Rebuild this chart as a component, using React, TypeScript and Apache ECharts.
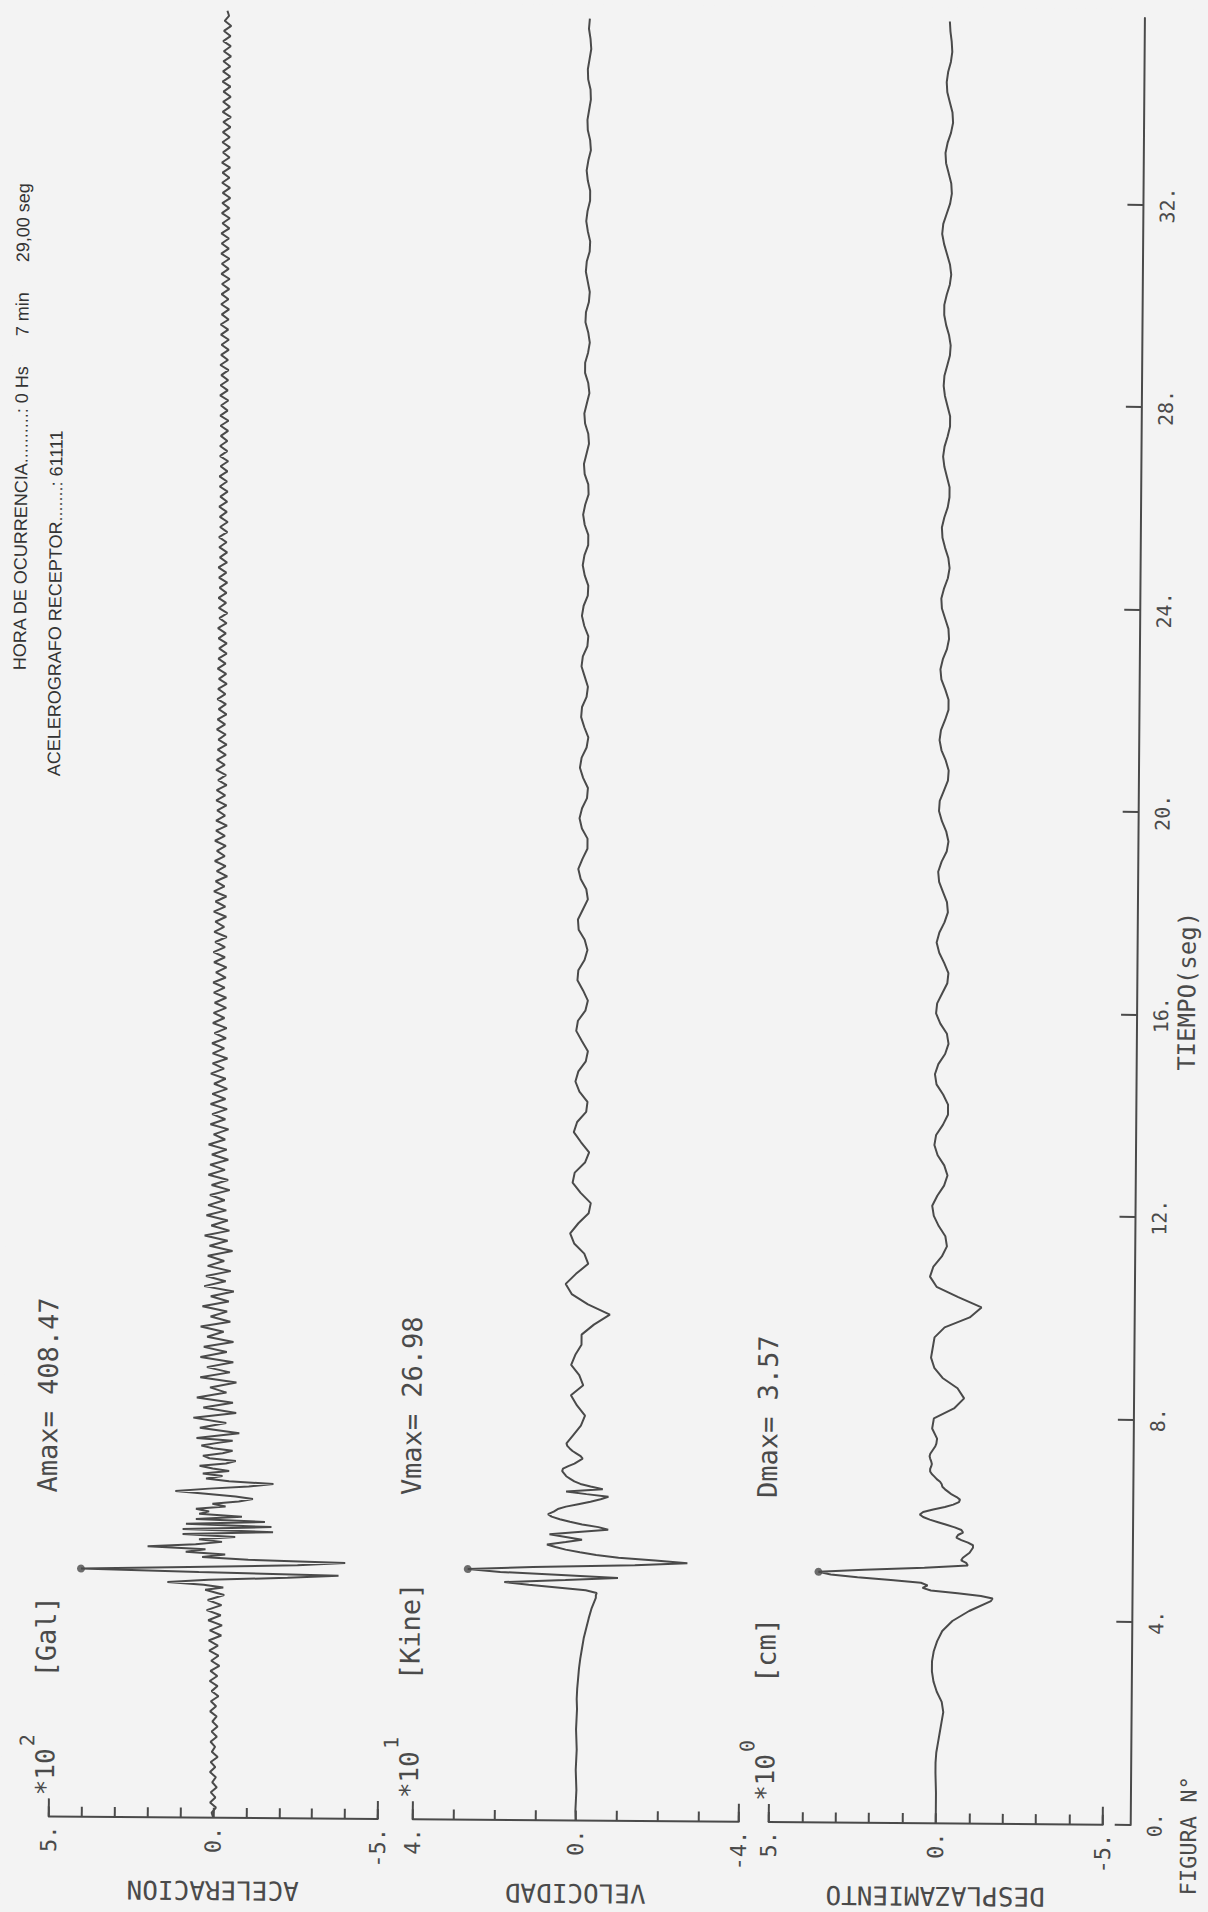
import React, { useEffect, useRef } from "react";
import * as echarts from "echarts";

// ---------------- data ----------------
const timeMax = 35.7;
const timeTicks = [0, 4, 8, 12, 16, 20, 24, 28, 32];
const timeTitle = "TIEMPO(seg)";

const accTicks = [-5, -4, -3, -2, -1, 0, 1, 2, 3, 4, 5];
const accTickLabels = [5, 0, -5];
const accEndTicks = [-5, 5];
const velTicks = [-4, -3, -2, -1, 0, 1, 2, 3, 4];
const velTickLabels = [4, 0, -4];
const velEndTicks = [-4, 4];
const dispTicks = [-5, -4, -3, -2, -1, 0, 1, 2, 3, 4, 5];
const dispTickLabels = [5, 0, -5];
const dispEndTicks = [-5, 5];

const panelNames = ["ACELERACION", "VELOCIDAD", "DESPLAZAMIENTO"];
const panelUnits = ["[Gal]", "[Kine]", "[cm]"];
const panelExponents = ["2", "1", "0"];
const panelMaxLabels = ["Amax= 408.47", "Vmax= 26.98", "Dmax= 3.57"];

const headerLine1 = "HORA DE OCURRENCIA..........: 0 Hs      7 min      29,00 seg";
const headerLine2 = "ACELEROGRAFO RECEPTOR.......: 61111";
const figureLabel = "FIGURA N\u00b0";

// acceleration (x 100 Gal)
const accEarlyStart = 0;
const accEarlyStep = 0.1;
const accEarly = [
  0, 0.05, -0.08, 0.1, -0.06, 0.08, -0.1, 0.04, -0.07, 0.11,
  -0.05, 0.09, -0.12, 0.06, -0.04, 0.1, -0.09, 0.07, -0.11, 0.05,
  -0.08, 0.12, -0.06, 0.1, -0.13, 0.08, -0.1, 0.14, -0.09, 0.12,
  -0.15, 0.1, -0.12, 0.16, -0.1, 0.18, -0.2, 0.15, -0.22, 0.2,
  -0.18, 0.25, -0.2, 0.22, -0.28, 0.3,
];
const accBurstStart = 4.55;
const accBurstStep = 0.05;
const accBurst = [
  -0.25, 0.35, 1.45, 0.2, -2.2, -3.75, 0.5, 4.08, 0.8, -2.5,
  -3.95, -1.0, 0.4, -0.3, 0.9, 0.3, 2.06, 0.6, -0.2, 0.5,
  -0.6, 1.0, -1.75, 1.0, -1.7, 0.9, -1.5, 0.6, -0.8, 0.5,
  0.2, 0.6, -0.3, 0.1, -0.7, -1.13, -0.6, 0.3, 1.23, 0.2,
  -1.0, -1.75, -0.4, 0.3, -0.2, 0.4, -0.4, 0.1, 0.5, -0.3,
  -0.6, 0.2, 0.4, -0.2, -0.5, 0.1, 0.45, 0.0, -0.5,
];
const accLateStart = 7.5;
const accLateStep = 0.1;
const accLate = [
  0.6, -0.7, 0.5, -0.3, 0.7, -0.6,
  0.4, -0.5, 0.6, -0.3, 0.2, -0.6, 0.5, -0.4, 0.3, -0.5,
  0.5, -0.3, 0.4, -0.5, 0.3, -0.2, 0.5, -0.4, 0.2, -0.3,
  0.45, -0.35, 0.2, -0.5, 0.4, -0.25, 0.35, -0.4, 0.3, -0.2,
  0.3, -0.45, 0.25, -0.3, 0.4, -0.35, 0.2, -0.3, 0.35, -0.25,
  0.3, -0.2, 0.25, -0.35, 0.2, -0.3, 0.3, -0.2, 0.25, -0.3,
  0.2, -0.25, 0.3, -0.2, 0.15, -0.3, 0.25, -0.2, 0.2, -0.25,
  0.25, -0.2, 0.2, -0.25, 0.15, -0.2, 0.25, -0.15, 0.2, -0.25,
  0.2, -0.15, 0.22, -0.2, 0.15, -0.22, 0.2, -0.15, 0.18, -0.2,
  0.15, -0.2, 0.18, -0.15, 0.2, -0.18, 0.12, -0.2, 0.18, -0.15,
  0.2, -0.15, 0.15, -0.2, 0.18, -0.12, 0.15, -0.18, 0.2, -0.15,
  0.15, -0.18, 0.2, -0.12, 0.15, -0.2, 0.12, -0.15, 0.18, -0.12,
  0.12, -0.15, 0.18, -0.12, 0.15, -0.18, 0.15, -0.12, 0.12, -0.16,
  0.15, -0.12, 0.14, -0.16, 0.1, -0.14, 0.16, -0.1, 0.14, -0.13,
  0.12, -0.15, 0.1, -0.12, 0.15, -0.1, 0.13, -0.14, 0.1, -0.12,
  0.14, -0.1, 0.12, -0.14, 0.1, -0.12, 0.14, -0.1, 0.12, -0.13,
  0.1, -0.13, 0.12, -0.1, 0.14, -0.12, 0.1, -0.14, 0.12, -0.1,
  0.13, -0.11, 0.1, -0.13, 0.12, -0.1, 0.14, -0.12, 0.1, -0.12,
  0.12, -0.1, 0.13, -0.12, 0.1, -0.13, 0.11, -0.1, 0.13, -0.11,
  0.1, -0.12, 0.12, -0.1, 0.13, -0.11, 0.1, -0.13, 0.12, -0.1,
  0.12, -0.1, 0.1, -0.12, 0.11, -0.13, 0.12, -0.1, 0.1, -0.12,
  0.13, -0.1, 0.12, -0.11, 0.1, -0.12, 0.13, -0.1, 0.11, -0.12,
  0.1, -0.12, 0.12, -0.1, 0.13, -0.11, 0.1, -0.12, 0.12, -0.1,
  0.11, -0.12, 0.1, -0.13, 0.12, -0.1, 0.11, -0.12, 0.13, -0.1,
  0.12, -0.1, 0.13, -0.11, 0.1, -0.12, 0.12, -0.1, 0.11, -0.13,
  0.1, -0.12, 0.12, -0.1, 0.11, -0.12, 0.13, -0.1, 0.1, -0.11,
  0.12, -0.1, 0.11, -0.12, 0.1, -0.13, 0.12, -0.1, 0.11, -0.12,
  0.1, -0.11, 0.13, -0.1, 0.12, -0.1, 0.11, -0.12, 0.1, -0.11,
  0.12, -0.1, 0.1, -0.12, 0.08, -0.05, 0.0,
];

// velocity (x 10 Kine)
const velEarlyStart = 0;
const velEarlyStep = 0.2;
const velEarly = [
  0, 0.01, 0, -0.01, 0, 0.01, 0, -0.01, 0, 0.01,
  0, -0.01, 0, -0.01, -0.03, -0.05, -0.08, -0.12, -0.16, -0.22,
  -0.28, -0.35, -0.45,
];
const velBurstStart = 4.45;
const velBurstStep = 0.05;
const velBurst = [
  -0.45, -0.47, -0.2, 0.5, 1.2, 1.8, 0.3, -0.99, 0.4, 1.9,
  2.698, 1.1, -1.4, -2.69, -1.9, -1.0, -0.45, -0.05, 0.3, 0.55,
  0.76, 0.3, -0.1, 0.3, 0.7, 0.0, -0.74, -0.5, -0.1, 0.2,
  0.45, 0.65, 0.74, 0.6, 0.5, 0.3, 0.0, -0.3, -0.55, -0.74,
  -0.2, 0.3, -0.6, -0.3, -0.05, 0.1, 0.2, 0.3, 0.35, 0.4,
  0.38, 0.25, 0.1, 0.0, -0.1, -0.05, 0.05, 0.15, 0.22, 0.28,
  0.3, 0.25,
];
const velLateStart = 7.6;
const velLateStep = 0.2;
const velLate = [
  0.15, -0.05, -0.15, 0.05, 0.2, -0.1, 0.0, 0.2, 0.1, -0.05,
  -0.05, -0.35, -0.74, -0.2, 0.2, 0.35, 0.1, -0.2, -0.1, 0.15,
  0.25, 0.05, -0.2, -0.25, 0.0, 0.2, 0.15, -0.1, -0.2, 0.0,
  0.18, 0.1, -0.12, -0.15, 0.05, 0.15, 0.08, -0.1, -0.15, 0.0,
  0.14, 0.1, -0.08, -0.14, -0.02, 0.12, 0.1, -0.05, -0.12, -0.05,
  0.1, 0.12, 0.0, -0.12, -0.08, 0.06, 0.12, 0.02, -0.1, -0.1,
  0.04, 0.1, 0.04, -0.08, -0.1, 0.02, 0.1, 0.06, -0.06, -0.1,
  0.0, 0.08, 0.06, -0.05, -0.08, 0.0, 0.08, 0.05, -0.06, -0.08,
  0.02, 0.08, 0.04, -0.06, -0.07, 0.02, 0.07, 0.03, -0.06, -0.06,
  0.03, 0.07, 0.02, -0.06, -0.05, 0.04, 0.06, 0.0, -0.06, -0.04,
  0.04, 0.06, 0.0, -0.06, -0.03, 0.05, 0.05, -0.02, -0.06, -0.02,
  0.05, 0.04, -0.03, -0.05, 0.0, 0.05, 0.03, -0.04, -0.05, 0.01,
  0.05, 0.02, -0.04, -0.04, 0.02, 0.05, 0.01, -0.05, -0.03, 0.03,
  0.04, 0.0, -0.04, -0.03, 0.03, 0.04, 0.0, -0.04, -0.02, 0.02,
  0.0,
];

// displacement (cm)
const dispEarlyStart = 0;
const dispEarlyStep = 0.2;
const dispEarly = [
  0, 0, 0, 0, 0.01, 0.02, 0.02, 0.0, -0.05, -0.1,
  -0.15, -0.2, -0.15, 0.0, 0.1, 0.15, 0.15, 0.1, 0.0, -0.15,
  -0.45, -0.95, -1.6,
];
const dispBurstStart = 4.45;
const dispBurstStep = 0.05;
const dispBurst = [
  -1.65, -1.3, -0.6, 0.2, 0.45, 0.3, 0.5, 1.4, 2.4, 3.2,
  3.57, 2.2, 0.4, -0.9, -0.85, -0.7, -0.75, -0.85, -0.95, -1.0,
  -1.05, -1.05, -0.9, -0.7, -0.55, -0.6, -0.75, -0.7, -0.5, -0.25,
  0.0, 0.25, 0.45, 0.55, 0.45, 0.15, -0.2, -0.45, -0.62, -0.65,
  -0.55, -0.4, -0.3, -0.2, -0.12, -0.1, -0.05, 0.05, 0.12, 0.2,
  0.25, 0.25, 0.22, 0.2, 0.22, 0.25, 0.27, 0.25, 0.2, 0.15,
  0.1, 0.07,
];
const dispLateStart = 7.6;
const dispLateStep = 0.2;
const dispLate = [
  0.05, 0.2, 0.15, -0.45, -0.75, -0.55, -0.1, 0.15, 0.25, 0.2,
  0.15, -0.15, -0.9, -1.25, -0.55, 0.1, 0.3, 0.2, -0.05, -0.2,
  -0.15, 0.05, 0.2, 0.25, 0.1, -0.1, -0.2, -0.1, 0.1, 0.2,
  0.15, -0.05, -0.2, -0.2, -0.05, 0.15, 0.2, 0.1, -0.1, -0.2,
  -0.15, 0.05, 0.18, 0.15, 0.0, -0.15, -0.18, -0.05, 0.1, 0.18,
  0.1, -0.05, -0.15, -0.12, 0.0, 0.12, 0.15, 0.05, -0.1, -0.15,
  -0.08, 0.05, 0.14, 0.12, 0.0, -0.12, -0.14, -0.05, 0.08, 0.14,
  0.1, -0.02, -0.12, -0.12, -0.02, 0.1, 0.13, 0.06, -0.06, -0.12,
  -0.1, 0.0, 0.1, 0.12, 0.04, -0.07, -0.12, -0.08, 0.02, 0.1,
  0.12, 0.05, -0.05, -0.1, -0.1, -0.02, 0.06, 0.1, 0.06, -0.03,
  -0.1, -0.1, -0.02, 0.06, 0.1, 0.08, 0.0, -0.08, -0.1, -0.05,
  0.04, 0.1, 0.1, 0.03, -0.06, -0.1, -0.06, 0.03, 0.12, 0.18,
  0.15, 0.05, -0.05, -0.1, -0.08, 0.0, 0.08, 0.1, 0.04, -0.06,
  -0.12, -0.1, -0.02, 0.06, 0.08, 0.04, -0.04, -0.08, -0.06, -0.02,
  0.0,
];

// ---------------- helpers ----------------
function seg(start: number, step: number, values: number[]): number[][] {
  return values.map((v, i) => [Math.round((start + i * step) * 1000) / 1000, v]);
}
function peakOf(data: number[][]): number[] {
  let best = data[0];
  for (const p of data) if (Math.abs(p[1]) > Math.abs(best[1])) best = p;
  return best;
}

const accData = [
  ...seg(accEarlyStart, accEarlyStep, accEarly),
  ...seg(accBurstStart, accBurstStep, accBurst),
  ...seg(accLateStart, accLateStep, accLate),
];
const velData = [
  ...seg(velEarlyStart, velEarlyStep, velEarly),
  ...seg(velBurstStart, velBurstStep, velBurst),
  ...seg(velLateStart, velLateStep, velLate),
];
const dispData = [
  ...seg(dispEarlyStart, dispEarlyStep, dispEarly),
  ...seg(dispBurstStart, dispBurstStep, dispBurst),
  ...seg(dispLateStart, dispLateStep, dispLate),
];

// ---------------- layout / style ----------------
const PAPER = "#f3f3f3";
const INK = "#4a4a4a";
const MONO = "'DejaVu Sans Mono', monospace";
const SANS = "'Liberation Sans', Arial, sans-serif";
const GRID_LEFT = 96;
const GRID_RIGHT = 9;
const gridTops = [48, 412, 768];
const gridHeights = [329, 326, 334];

const panels = [
  { data: accData, min: -5, max: 5, ticks: accTicks, labels: accTickLabels, ends: accEndTicks },
  { data: velData, min: -4, max: 4, ticks: velTicks, labels: velTickLabels, ends: velEndTicks },
  { data: dispData, min: -5, max: 5, ticks: dispTicks, labels: dispTickLabels, ends: dispEndTicks },
];

function buildOption() {
  const grid = panels.map((_, i) => ({
    left: GRID_LEFT,
    right: GRID_RIGHT,
    top: gridTops[i],
    height: gridHeights[i],
    containLabel: false,
  }));

  const xAxis = panels.map((_, i) => {
    const bottom = i === panels.length - 1;
    return {
      type: "value",
      gridIndex: i,
      min: 0,
      max: timeMax,
      show: bottom,
      offset: bottom ? 28 : 0,
      axisLine: { show: bottom, onZero: false, lineStyle: { color: INK, width: 2 } },
      axisTick: {
        show: bottom,
        inside: true,
        length: 16,
        customValues: timeTicks,
        lineStyle: { color: INK, width: 2 },
      },
      axisLabel: {
        show: bottom,
        customValues: timeTicks,
        formatter: (v: number) => `${v}.`,
        fontFamily: MONO,
        fontSize: 20,
        color: INK,
        margin: 14,
      },
      splitLine: { show: false },
    };
  });

  const yAxis: any[] = [];
  panels.forEach((p, i) => {
    yAxis.push({
      type: "value",
      gridIndex: i,
      min: p.min,
      max: p.max,
      position: "left",
      name: panelNames[i],
      nameLocation: "middle",
      nameRotate: 90,
      nameGap: 44,
      nameTextStyle: { fontFamily: MONO, fontSize: 26, color: INK },
      axisLine: { show: true, onZero: false, lineStyle: { color: INK, width: 2 } },
      axisTick: {
        show: true,
        inside: true,
        length: 10,
        customValues: p.ticks,
        lineStyle: { color: INK, width: 2 },
      },
      axisLabel: {
        customValues: p.labels,
        formatter: (v: number) => `${v}.`,
        fontFamily: MONO,
        fontSize: 22,
        color: INK,
        margin: 9,
      },
      splitLine: { show: false },
    });
    yAxis.push({
      type: "value",
      gridIndex: i,
      min: p.min,
      max: p.max,
      position: "left",
      axisLine: { show: false },
      axisTick: {
        show: true,
        inside: true,
        length: 18,
        customValues: p.ends,
        lineStyle: { color: INK, width: 2 },
      },
      axisLabel: { show: false },
      splitLine: { show: false },
    });
  });

  const series: any[] = [];
  panels.forEach((p, i) => {
    series.push({
      type: "line",
      xAxisIndex: i,
      yAxisIndex: 2 * i,
      data: p.data,
      showSymbol: false,
      silent: true,
      lineStyle: { color: INK, width: 2 },
    });
    series.push({
      type: "scatter",
      xAxisIndex: i,
      yAxisIndex: 2 * i,
      data: [peakOf(p.data)],
      symbol: "circle",
      symbolSize: 8,
      silent: true,
      itemStyle: { color: INK },
    });
  });

  const graphic: any[] = [];
  panels.forEach((_, i) => {
    const top = gridTops[i];
    const txt = (x: number, y: number, text: string, size: number, align = "left") => ({
      type: "text",
      x,
      y,
      silent: true,
      style: {
        text,
        fontFamily: MONO,
        fontSize: size,
        fill: INK,
        align,
        verticalAlign: "middle",
      },
    });
    graphic.push(txt(117, top - 4, "*10", 26));
    graphic.push(txt(166, top - 22, panelExponents[i], 20));
    graphic.push(txt(235, top - 4, panelUnits[i], 27));
    graphic.push(txt(420, top - 4, panelMaxLabels[i], 27));
  });
  graphic.push({
    type: "text",
    x: 930,
    y: 1180,
    silent: true,
    style: { text: timeTitle, fontFamily: MONO, fontSize: 24, fill: INK, align: "center", verticalAlign: "middle" },
  });
  graphic.push({
    type: "text",
    x: 1729,
    y: 10,
    silent: true,
    style: { text: headerLine1, fontFamily: SANS, fontSize: 18, fill: "#333", align: "right", verticalAlign: "middle" },
  });
  graphic.push({
    type: "text",
    x: 1482,
    y: 45,
    silent: true,
    style: { text: headerLine2, fontFamily: SANS, fontSize: 18, fill: "#333", align: "right", verticalAlign: "middle" },
  });
  graphic.push({
    type: "text",
    x: 26,
    y: 1188,
    silent: true,
    style: { text: figureLabel, fontFamily: MONO, fontSize: 22, fill: INK, align: "left", verticalAlign: "middle" },
  });

  return {
    animation: false,
    backgroundColor: PAPER,
    grid,
    xAxis,
    yAxis,
    series,
    graphic,
  };
}

export default function App() {
  const ref = useRef<HTMLDivElement>(null);
  useEffect(() => {
    if (!ref.current) return;
    const chart = echarts.init(ref.current, null, { renderer: "svg" });
    chart.setOption(buildOption() as any);
    return () => chart.dispose();
  }, []);
  return (
    <div
      style={{
        position: "absolute",
        left: 0,
        top: 0,
        width: 1208,
        height: 1912,
        overflow: "hidden",
        background: PAPER,
      }}
    >
      <div
        ref={ref}
        style={{
          position: "absolute",
          left: 0,
          top: 0,
          width: 1912,
          height: 1208,
          transformOrigin: "0 0",
          transform: "translate(0px, 1912px) rotate(-89.55deg)",
        }}
      />
    </div>
  );
}
